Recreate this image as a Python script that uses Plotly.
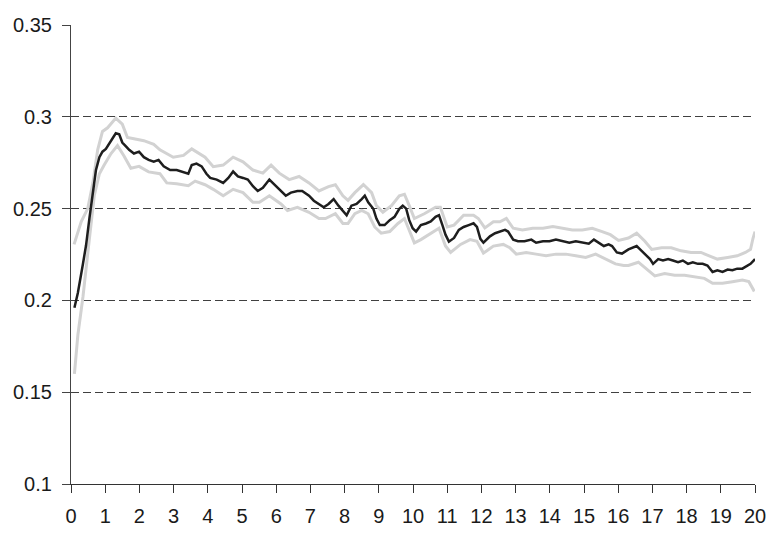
import plotly.graph_objects as go

mean_x = [0.1, 0.2, 0.35, 0.44, 0.54, 0.64, 0.73, 0.83, 0.92, 1.02, 1.1, 1.17, 1.31, 1.41, 1.5, 1.6, 1.7, 1.84, 1.99,
          2.13, 2.27, 2.42, 2.56, 2.71, 2.9, 3.09, 3.29, 3.43, 3.53, 3.67, 3.82, 3.96, 4.07, 4.26, 4.45, 4.6, 4.74,
          4.88, 5.03, 5.17, 5.32, 5.46, 5.61, 5.8, 5.95, 6.14, 6.28, 6.43, 6.62, 6.76, 6.96, 7.1, 7.25, 7.39, 7.53,
          7.68, 7.82, 7.97, 8.06, 8.2, 8.35, 8.5, 8.59, 8.69, 8.84, 8.93, 9.03, 9.17, 9.32, 9.46, 9.6, 9.7, 9.8,
          9.89, 9.99, 10.09, 10.23, 10.38, 10.52, 10.66, 10.76, 10.86, 10.95, 11.05, 11.2, 11.34, 11.48, 11.63,
          11.77, 11.87, 11.97, 12.06, 12.25, 12.4, 12.54, 12.69, 12.78, 12.93, 13.07, 13.26, 13.46, 13.6, 13.8,
          13.99, 14.18, 14.37, 14.57, 14.76, 14.95, 15.14, 15.29, 15.43, 15.58, 15.72, 15.82, 15.96, 16.11, 16.3,
          16.45, 16.54, 16.64, 16.78, 16.93, 17.02, 17.17, 17.31, 17.46, 17.6, 17.75, 17.89, 18.04, 18.18, 18.33,
          18.47, 18.61, 18.76, 18.9, 19.05, 19.2, 19.34, 19.48, 19.63, 19.77, 19.87, 19.96, 20.0]
mean_y = [0.196, 0.204, 0.220, 0.230, 0.245, 0.258, 0.271, 0.278, 0.281, 0.2825, 0.285, 0.287, 0.291, 0.2905, 0.286,
          0.284, 0.282, 0.280, 0.281, 0.278, 0.2765, 0.2755, 0.2765, 0.273, 0.271, 0.271, 0.270, 0.269, 0.2737,
          0.2745, 0.273, 0.269, 0.2667, 0.2658, 0.264, 0.2667, 0.2702, 0.2675, 0.2667, 0.2658, 0.2622, 0.2596,
          0.2613, 0.2658, 0.263, 0.2596, 0.257, 0.2587, 0.2596, 0.2596, 0.257, 0.2543, 0.2525, 0.2507, 0.2525,
          0.2552, 0.2516, 0.2481, 0.2464, 0.2516, 0.2525, 0.2552, 0.257, 0.2534, 0.2499, 0.2446, 0.241, 0.241,
          0.2437, 0.2455, 0.2499, 0.2516, 0.250, 0.2437, 0.2393, 0.2375, 0.241, 0.2419, 0.243, 0.2455, 0.2464,
          0.241, 0.2358, 0.232, 0.234, 0.2384, 0.240, 0.241, 0.242, 0.240, 0.2335, 0.2314, 0.2349, 0.2366, 0.2375,
          0.2384, 0.2375, 0.2331, 0.2322, 0.2322, 0.2331, 0.2314, 0.2322, 0.2322, 0.2331, 0.2322, 0.2314, 0.2322,
          0.2314, 0.2309, 0.2331, 0.2314, 0.2296, 0.2305, 0.2296, 0.2261, 0.2255, 0.2278, 0.2287, 0.2296, 0.2278,
          0.2252, 0.2225, 0.2199, 0.2225, 0.2217, 0.2225, 0.2217, 0.2208, 0.2217, 0.2199, 0.2208, 0.2199, 0.2199,
          0.219, 0.2155, 0.2164, 0.2155, 0.2168, 0.2164, 0.2173, 0.2173, 0.219, 0.2199, 0.2217, 0.2225]

upper_x = [0.09, 0.3, 0.49, 0.64, 0.78, 0.92, 1.07, 1.31, 1.5, 1.65, 1.84, 2.13, 2.42, 2.6, 2.99, 3.29, 3.53, 3.77,
           3.92, 4.16, 4.45, 4.74, 5.03, 5.32, 5.61, 5.85, 6.09, 6.38, 6.67, 6.96, 7.25, 7.53, 7.73, 7.95, 8.1, 8.3,
           8.55, 8.79, 8.93, 9.12, 9.37, 9.6, 9.75, 9.89, 10.04, 10.33, 10.66, 10.8, 11.0, 11.2, 11.48, 11.77, 11.91,
           12.1, 12.35, 12.54, 12.73, 12.93, 13.2, 13.5, 13.8, 14.09, 14.37, 14.66, 14.95, 15.24, 15.53, 15.77,
           16.01, 16.3, 16.54, 16.78, 16.98, 17.27, 17.55, 17.84, 18.13, 18.42, 18.66, 18.9, 19.2, 19.48, 19.72,
           19.87, 19.94, 20.0]
upper_y = [0.2305, 0.243, 0.250, 0.264, 0.282, 0.292, 0.294, 0.2993, 0.296, 0.2887, 0.288, 0.287, 0.285, 0.282,
           0.278, 0.279, 0.2825, 0.280, 0.278, 0.2728, 0.2737, 0.278, 0.2755, 0.271, 0.2693, 0.2737, 0.2693, 0.2658,
           0.2675, 0.264, 0.2596, 0.262, 0.263, 0.257, 0.2545, 0.2587, 0.2631, 0.2587, 0.2516, 0.248, 0.2516, 0.257,
           0.2578, 0.2516, 0.2446, 0.2472, 0.2507, 0.2507, 0.240, 0.241, 0.2464, 0.2464, 0.2446, 0.2395, 0.2428,
           0.2428, 0.2446, 0.2393, 0.2384, 0.2393, 0.2393, 0.2402, 0.2393, 0.2384, 0.2384, 0.2393, 0.2375, 0.2358,
           0.2327, 0.234, 0.2366, 0.2322, 0.2278, 0.2287, 0.2287, 0.227, 0.2261, 0.2261, 0.2243, 0.2225, 0.2234,
           0.2243, 0.2261, 0.2278, 0.2337, 0.2375]

lower_x = [0.1, 0.2, 0.35, 0.44, 0.54, 0.68, 0.83, 0.97, 1.17, 1.36, 1.55, 1.75, 1.99, 2.27, 2.6, 2.8, 3.09, 3.43,
           3.63, 3.92, 4.16, 4.45, 4.74, 5.03, 5.32, 5.51, 5.8, 6.14, 6.33, 6.62, 6.96, 7.25, 7.44, 7.73, 7.95, 8.1,
           8.3, 8.5, 8.69, 8.88, 9.07, 9.32, 9.56, 9.75, 9.89, 10.04, 10.23, 10.52, 10.76, 10.95, 11.1, 11.39, 11.67,
           11.87, 12.06, 12.16, 12.35, 12.64, 12.83, 13.02, 13.31, 13.6, 13.89, 14.18, 14.47, 14.76, 15.05, 15.34,
           15.63, 15.92, 16.16, 16.3, 16.59, 16.88, 17.07, 17.36, 17.65, 17.94, 18.23, 18.52, 18.76, 19.05, 19.34,
           19.63, 19.82, 19.91, 19.98]
lower_y = [0.160, 0.181, 0.202, 0.219, 0.234, 0.257, 0.269, 0.2737, 0.280, 0.2843, 0.2787, 0.272, 0.273, 0.270,
           0.269, 0.264, 0.2635, 0.2625, 0.265, 0.263, 0.2605, 0.257, 0.2605, 0.2587, 0.2534, 0.2534, 0.257, 0.2525,
           0.249, 0.2507, 0.248, 0.2446, 0.2446, 0.2472, 0.2419, 0.2419, 0.2472, 0.249, 0.2472, 0.240, 0.2366,
           0.2375, 0.2419, 0.2446, 0.2384, 0.2313, 0.2331, 0.2366, 0.2393, 0.2296, 0.2261, 0.2305, 0.2331, 0.2322,
           0.2258, 0.227, 0.2296, 0.2305, 0.2287, 0.2252, 0.2261, 0.2252, 0.2243, 0.2252, 0.2252, 0.2243, 0.2234,
           0.2252, 0.2225, 0.2199, 0.219, 0.219, 0.2208, 0.2164, 0.2133, 0.2146, 0.2137, 0.2137, 0.2128, 0.212,
           0.2093, 0.2093, 0.2102, 0.2111, 0.2102, 0.2076, 0.2049]

x_ticks = list(range(0, 21))
y_ticks = [0.1, 0.15, 0.2, 0.25, 0.3, 0.35]
y_tick_text = ["0.1", "0.15", "0.2", "0.25", "0.3", "0.35"]

fig = go.Figure()
fig.add_trace(go.Scatter(x=upper_x, y=upper_y, mode="lines", line=dict(color="#d2d2d2", width=3), showlegend=False))
fig.add_trace(go.Scatter(x=lower_x, y=lower_y, mode="lines", line=dict(color="#d2d2d2", width=3), showlegend=False))
fig.add_trace(go.Scatter(x=mean_x, y=mean_y, mode="lines", line=dict(color="#1e1e1e", width=2.5), showlegend=False))

font = dict(family="Liberation Sans, Arial, sans-serif", size=20, color="#1a1a1a")
fig.update_layout(
    width=778, height=539,
    margin=dict(l=71, r=15, t=25, b=42),
    plot_bgcolor="white", paper_bgcolor="white",
    font=font,
    xaxis=dict(range=[0, 20], tickvals=x_ticks, showgrid=False, zeroline=False,
               showline=True, linecolor="#333333", linewidth=1.2,
               ticks="outside", ticklen=8, tickwidth=1.2, tickcolor="#333333",
               tickfont=font, ticklabelstandoff=6),
    yaxis=dict(range=[0.1, 0.35], tickvals=y_ticks, ticktext=y_tick_text,
               showgrid=True, gridcolor="#404040", gridwidth=1.2, griddash="8px,4px",
               zeroline=False, showline=True, linecolor="#444444", linewidth=1.2,
               ticks="outside", ticklen=8, tickwidth=1.2, tickcolor="#444444",
               tickfont=font, ticklabelstandoff=6),
)

fig.write_html(
    "out.html",
    config={"displayModeBar": False},
    post_script="document.body.style.margin='0';document.body.style.overflow='hidden';",
)
